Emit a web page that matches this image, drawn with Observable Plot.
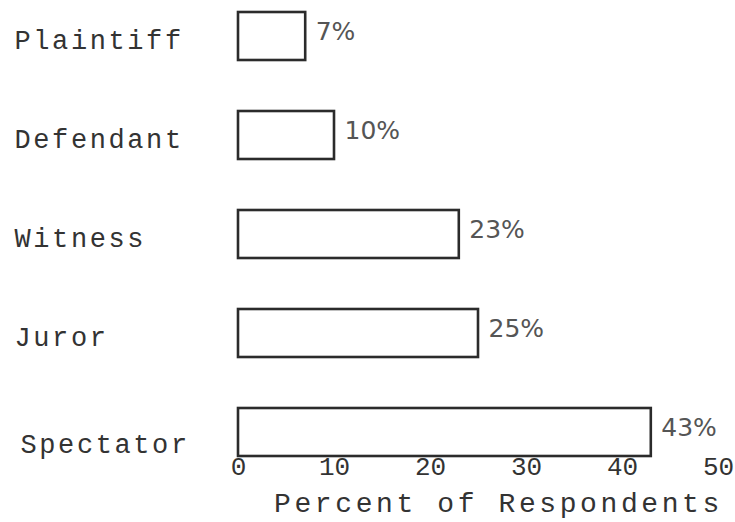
<!DOCTYPE html>
<html>
<head>
<meta charset="utf-8">
<script src="https://cdn.jsdelivr.net/npm/d3@7"></script>
<script src="https://cdn.jsdelivr.net/npm/@observablehq/plot@0.6"></script>
<style>
  html, body { margin: 0; padding: 0; background: #fff; }
  #chart { width: 735px; height: 522px; }
</style>
</head>
<body>
<div id="chart"></div>
<script>
const categories = ["Plaintiff", "Defendant", "Witness", "Juror", "Spectator"];
const percents = [7, 10, 23, 25, 43];
const xTicks = [0, 10, 20, 30, 40, 50];
const xLabel = "Percent of Respondents";

const data = categories.map((c, i) => ({category: c, value: percents[i]}));
const upperCats = categories.slice(0, 4);
const lastCat = categories.slice(4);

const mono = "'Liberation Mono', 'DejaVu Sans Mono', monospace";
const sans = "'DejaVu Sans', 'Liberation Sans', sans-serif";

const chart = Plot.plot({
  width: 735,
  height: 522,
  marginLeft: 238,
  marginRight: 17,
  marginTop: 12,
  marginBottom: 66,
  style: {background: "#fff", color: "#333", fontFamily: mono},
  x: {domain: [0, 50], label: null},
  y: {domain: categories, paddingInner: 0.52, paddingOuter: 0, label: null, axis: null},
  marks: [
    Plot.barX(data, {x: "value", y: "category", fill: "white", stroke: "#2b2b2b", strokeWidth: 2.6}),
    Plot.text(data, {
      x: "value", y: "category", text: d => d.value + "%",
      textAnchor: "start", dx: 10, dy: -5,
      fontSize: 25, fontFamily: sans, fill: "#555"
    }),
    Plot.text(upperCats, {
      y: d => d, text: d => d, frameAnchor: "left", textAnchor: "start",
      dx: -224, dy: 4,
      fontSize: 27, fontFamily: mono, fill: "#333"
    }),
    Plot.text(lastCat, {
      y: d => d, text: d => d, frameAnchor: "left", textAnchor: "start",
      dx: -218, dy: 12,
      fontSize: 27, fontFamily: mono, fill: "#333"
    }),
    Plot.axisX({
      ticks: xTicks, tickSize: 0, tickPadding: 0, label: null,
      fontSize: 26, fontFamily: mono, fill: "#333"
    }),
    Plot.text([xLabel], {
      text: d => d, frameAnchor: "bottom", dx: 20, dy: 55,
      fontSize: 28, fontFamily: mono, fill: "#333"
    })
  ]
});

chart.querySelectorAll("text").forEach(t => {
  const s = t.textContent;
  if (categories.includes(s)) t.setAttribute("letter-spacing", "2.6");
  if (s === xLabel) t.setAttribute("letter-spacing", "3.6");
});
document.getElementById("chart").appendChild(chart);
</script>
</body>
</html>
